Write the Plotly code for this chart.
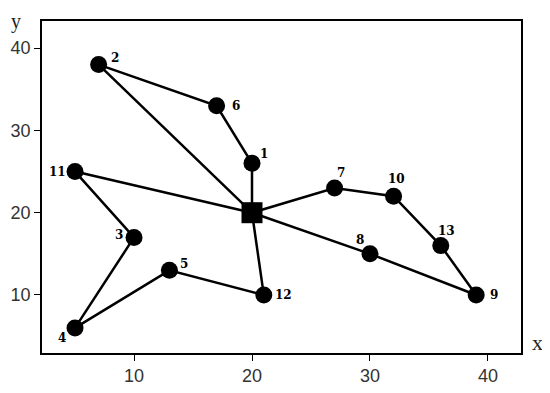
import plotly.graph_objects as go

# depot + customers
depot_x = [20]
depot_y = [20]
node_ids = [1, 2, 3, 4, 5, 6, 7, 8, 9, 10, 11, 12, 13]
node_x = [20, 7, 10, 5, 13, 17, 27, 30, 39, 32, 5, 21, 36]
node_y = [26, 38, 17, 6, 13, 33, 23, 15, 10, 22, 25, 10, 16]

# routes (0 = depot)
route_a = [0, 1, 6, 2, 0]
route_b = [0, 11, 3, 4, 5, 12, 0]
route_c = [0, 7, 10, 13, 9, 8, 0]


def coords(route):
    xs, ys = [], []
    for n in route:
        if n == 0:
            xs.append(depot_x[0]); ys.append(depot_y[0])
        else:
            i = node_ids.index(n)
            xs.append(node_x[i]); ys.append(node_y[i])
    return xs, ys


fig = go.Figure()
for r in (route_a, route_b, route_c):
    xs, ys = coords(r)
    fig.add_trace(go.Scatter(x=xs, y=ys, mode="lines",
                             line=dict(color="black", width=2.5),
                             hoverinfo="skip"))

fig.add_trace(go.Scatter(x=node_x, y=node_y, mode="markers",
                         marker=dict(color="black", size=17, symbol="circle")))
fig.add_trace(go.Scatter(x=depot_x, y=depot_y, mode="markers",
                         marker=dict(color="black", size=21, symbol="square")))

# label offsets in pixels (dx, dy)
offsets = {1: (12, 9), 2: (16, 7), 6: (19, 0), 7: (6, 15), 10: (3, 17),
           13: (6, 15), 8: (-10, 14), 9: (18, 0), 12: (20, 0), 5: (15, 6),
           11: (-18, 0), 3: (-15, 2), 4: (-13, -10)}
for n, x, y in zip(node_ids, node_x, node_y):
    dx, dy = offsets[n]
    fig.add_annotation(x=x, y=y, text=str(n), showarrow=False,
                       xshift=dx, yshift=dy,
                       font=dict(family="DejaVu Serif", size=12, color="black", weight="bold"))

fig.add_annotation(xref="paper", yref="paper", x=1.035, y=0.033, text="x",
                   showarrow=False, xanchor="center", yanchor="middle",
                   font=dict(family="Liberation Serif", size=22, color="#222"))
fig.add_annotation(xref="paper", yref="paper", x=-0.054, y=1.039, text="y",
                   showarrow=False, xanchor="center", yanchor="top",
                   font=dict(family="Liberation Serif", size=20, color="#222"))

axis_style = dict(showgrid=False, zeroline=False, showline=True, linecolor="black",
                  linewidth=1.5, mirror=True, ticks="outside", ticklen=6,
                  tickcolor="black", automargin=False,
                  tickfont=dict(family="Liberation Sans Narrow, Liberation Sans", size=18, color="#333"))
fig.update_xaxes(range=[2.2, 42.8], tickvals=[10, 20, 30, 40], **axis_style)
fig.update_yaxes(range=[2.95, 43.3], tickvals=[10, 20, 30, 40], **axis_style)

# page body adds an 8px margin, so the figure is a little smaller than the window
fig.update_layout(width=542, height=385, showlegend=False,
                  margin=dict(l=34, r=29, t=13, b=40),
                  plot_bgcolor="white", paper_bgcolor="white")

fig.write_html("out.html")
